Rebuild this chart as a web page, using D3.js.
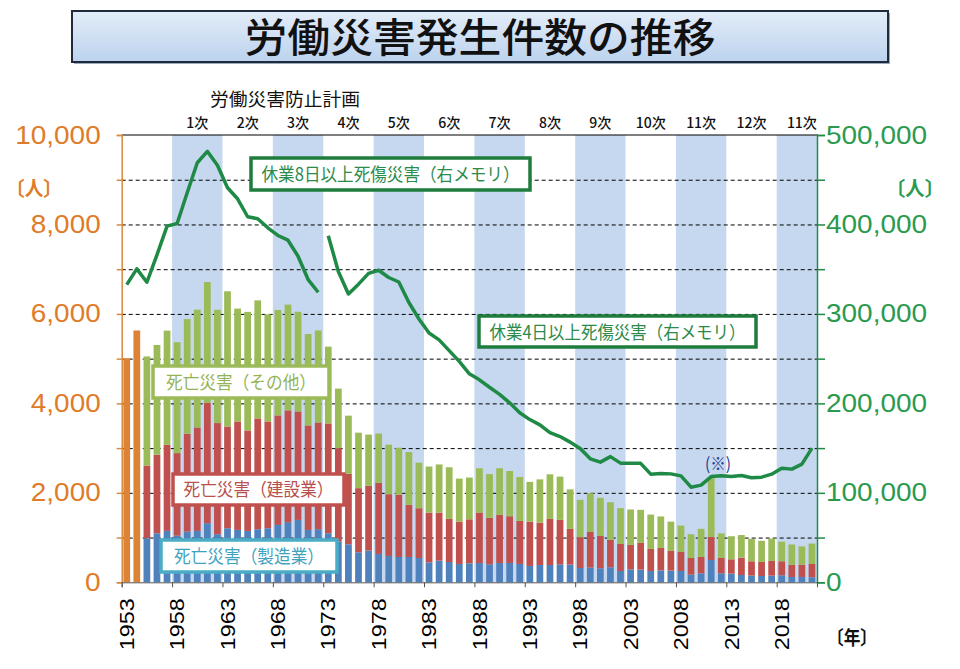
<!DOCTYPE html>
<html><head><meta charset="utf-8">
<script src="https://cdn.jsdelivr.net/npm/d3@7"></script>
<style>body{margin:0;background:#fff}svg{display:block}</style>
</head><body>
<svg id="c" width="960" height="669"></svg>
<script>
// ---------------- DATA ----------------
const years = d3.range(1953, 2022);
const earlyYears = [1953, 1954];
const earlyTotal = [5010, 5630];
const stackYears = d3.range(1955, 2022);
const manufacturing = [985,1097,1149,1044,1134,1149,1321,1075,1209,1171,
  1149,1187,1209,1283,1343,1395,1171,1187,1097,909,
  850,671,708,634,589,566,566,544,447,484,
  454,410,425,432,402,432,432,410,365,387,
  387,402,395,320,330,313,336,253,291,284,
  253,268,261,253,171,201,499,201,193,163,
  148,141,148,156,119,119,112];
const construction = [1626,1753,1925,1844,2186,2313,2687,2485,2275,2425,
  2246,2477,2387,2448,2500,2425,2336,2387,2455,2091,
  1575,1434,1448,1589,1381,1389,1165,1112,1112,1075,
  963,947,984,1127,1038,1075,1045,962,992,948,
  1030,993,798,690,795,724,611,604,544,596,
  493,500,440,425,373,365,515,343,322,388,
  322,314,329,314,275,275,298];
const others = [2439,2456,2553,2480,2565,2633,2704,2533,3022,2523,
  2651,2639,2394,2357,2365,2228,2045,2057,1717,1330,
  1300,1240,1146,1103,1107,1054,1181,1018,1029,1076,
  1155,961,933,990,979,1043,1012,982,888,966,
  997,968,885,834,867,852,843,801,793,740,
  768,704,656,590,531,629,1324,549,515,506,
  502,473,501,439,451,408,457];
const line8Years = d3.range(1953, 1973);
const line8 = [332800,350400,335400,366000,398100,401100,435500,469000,481700,466100,
  441000,428700,408600,406400,396300,387700,382400,364500,338400,324200];
const line4Years = d3.range(1973, 2022);
const line4 = [387300,347400,322300,333300,345300,348800,340700,335700,312800,294300,
  278600,271000,259000,246900,233000,226300,218000,210100,200600,189600,
  181900,176000,167300,162900,156700,149500,138000,134300,140500,133200,
  133000,133000,120900,121600,121200,119000,106300,108600,118200,119000,
  118200,119300,116800,117500,120900,127600,126500,132100,150000];
const planLabels = ["1次","2次","3次","4次","5次","6次","7次","8次","9次","10次","11次","12次","11次"];
const planStarts = [1958,1963,1968,1973,1978,1983,1988,1993,1998,2003,2008,2013,2018];
const shadedPlans = [1958,1968,1978,1988,1998,2008,2018];
const xTickYears = [1953,1958,1963,1968,1973,1978,1983,1988,1993,1998,2003,2008,2013,2018];
const leftLabelTicks = [0,2000,4000,6000,8000,10000];
const leftMinorTicks = [0,1000,2000,3000,4000,5000,6000,7000,8000,9000,10000];
const rightLabelTicks = [0,100000,200000,300000,400000,500000];
const rightMinorTicks = [0,50000,100000,150000,200000,250000,300000,350000,400000,450000,500000];
const gridTicks = [1000,2000,3000,4000,5000,6000,7000,8000,9000];

// ---------------- LAYOUT ----------------
const L = 121.7, R = 817, T = 135, B = 582.3;
const C = {blue:"#4F81BD", red:"#C0504D", green:"#9BBB59", orange:"#DD8336",
  band:"#C6D8EF", line:"#1E8A46", axisOrange:"#D98A3E", txtOrange:"#E07B28", txtGreen:"#2A9A4E"};
const JP = "'Noto Sans CJK JP','Noto Sans',sans-serif";
const NUM = "'Liberation Sans',Arial,sans-serif";

const svg = d3.select("#c");
const x = d3.scaleBand().domain(years).range([L, R]).paddingInner(0.33).paddingOuter(0.165);
const xLin = d3.scaleLinear().domain([1953, 2022]).range([L, R]);
const y = d3.scaleLinear().domain([0, 10000]).range([B, T]);
const yR = d3.scaleLinear().domain([0, 500000]).range([B, T]);

// Title
const defs = svg.append("defs");
const g1 = defs.append("linearGradient").attr("id","tg").attr("x1",0).attr("y1",0).attr("x2",0).attr("y2",1);
g1.append("stop").attr("offset","0%").attr("stop-color","#e3edf9");
g1.append("stop").attr("offset","100%").attr("stop-color","#bcd2ee");
svg.append("rect").attr("x",74).attr("y",13).attr("width",816).attr("height",51).attr("fill","#9aa9bb");
svg.append("rect").attr("x",72).attr("y",11).attr("width",816).attr("height",51)
  .attr("fill","url(#tg)").attr("stroke","#1f2a3a").attr("stroke-width",2);
svg.append("text").attr("x",480).attr("y",52).attr("text-anchor","middle")
  .attr("font-family",JP).attr("font-size",40).attr("font-weight",500).attr("fill","#111")
  .attr("textLength",471).attr("lengthAdjust","spacingAndGlyphs").text("労働災害発生件数の推移");

// Bands
svg.append("g").selectAll("rect").data(shadedPlans).join("rect")
  .attr("x", d => xLin(d)).attr("y", T)
  .attr("width", d => xLin(Math.min(d + 5, 2022)) - xLin(d)).attr("height", B - T)
  .attr("fill", C.band);

// Gridlines
const grid = svg.append("g").attr("transform",`translate(${L},0)`)
  .call(d3.axisLeft(y).tickValues(gridTicks).tickSize(-(R - L)).tickFormat(""));
grid.select(".domain").remove();
grid.selectAll("line").attr("stroke","#000").attr("stroke-width",1).attr("stroke-dasharray","4,3");

// Early orange bars
svg.append("g").selectAll("rect").data(earlyYears).join("rect")
  .attr("x", d => x(d)).attr("width", x.bandwidth())
  .attr("y", (d,i) => y(earlyTotal[i])).attr("height", (d,i) => B - y(earlyTotal[i]))
  .attr("fill", C.orange);

// Stacked bars
const rows = stackYears.map((yr,i) => ({year:yr, m:manufacturing[i], c:construction[i], o:others[i]}));
const series = d3.stack().keys(["m","c","o"])(rows);
const colorOf = {m:C.blue, c:C.red, o:C.green};
svg.append("g").selectAll("g").data(series).join("g").attr("fill", s => colorOf[s.key])
  .selectAll("rect").data(s => s).join("rect")
  .attr("x", d => x(d.data.year)).attr("width", x.bandwidth())
  .attr("y", d => y(d[1])).attr("height", d => y(d[0]) - y(d[1]));

// top border
svg.append("line").attr("x1",L).attr("x2",R+1).attr("y1",T).attr("y2",T).attr("stroke","#000").attr("stroke-width",1.2);

// Left axis
const la = svg.append("g").attr("transform",`translate(${L},0)`)
  .call(d3.axisLeft(y).tickValues(leftMinorTicks).tickSize(5).tickFormat(""));
la.selectAll("line,path").attr("stroke",C.axisOrange).attr("stroke-width",1.5);
const ll = svg.append("g").attr("transform",`translate(${L},0)`)
  .call(d3.axisLeft(y).tickValues(leftLabelTicks).tickSize(0).tickPadding(21).tickFormat(d3.format(",")));
ll.select(".domain").remove();
ll.selectAll("text").attr("font-family",NUM).attr("font-size",25).attr("fill",C.txtOrange)
  .attr("textLength", d => { const s=d3.format(",")(d); return (s.replace(/,/g,"").length*15.6 + (s.split(",").length-1)*7.5); })
  .attr("lengthAdjust","spacingAndGlyphs");

// Right axis
const ra = svg.append("g").attr("transform",`translate(${R},0)`)
  .call(d3.axisRight(yR).tickValues(rightMinorTicks).tickSize(8).tickFormat(""));
ra.selectAll("line,path").attr("stroke",C.line).attr("stroke-width",1.5);
const rl = svg.append("g").attr("transform",`translate(${R},0)`)
  .call(d3.axisRight(yR).tickValues(rightLabelTicks).tickSize(0).tickPadding(9).tickFormat(d3.format(",")));
rl.select(".domain").remove();
rl.selectAll("text").attr("font-family",NUM).attr("font-size",25).attr("fill",C.txtGreen)
  .attr("textLength", d => { const s=d3.format(",")(d); return (s.replace(/,/g,"").length*15.6 + (s.split(",").length-1)*7.5); })
  .attr("lengthAdjust","spacingAndGlyphs");

// Bottom axis (boundary ticks)
const ba = svg.append("g").attr("transform",`translate(0,${B})`)
  .call(d3.axisBottom(xLin).tickValues(xTickYears).tickSize(5).tickFormat(""));
ba.selectAll("line,path").attr("stroke","#555").attr("stroke-width",1);
// year labels centered on category
const bl = svg.append("g").attr("transform",`translate(0,${B})`)
  .call(d3.axisBottom(x).tickValues(xTickYears).tickSize(0));
bl.select(".domain").remove();
bl.selectAll("text").attr("font-family",NUM).attr("font-size",20).attr("fill","#000")
  .attr("transform","rotate(-90)").attr("x",-16).attr("y",0).attr("dy","0.36em")
  .attr("text-anchor","end").attr("textLength",52).attr("lengthAdjust","spacingAndGlyphs");

// Lines
const lineGen = d3.line().x(d => x(d[0]) + x.bandwidth()/2).y(d => yR(d[1]));
svg.append("path").datum(line8Years.map((yr,i)=>[yr,line8[i]])).attr("d",lineGen)
  .attr("fill","none").attr("stroke",C.line).attr("stroke-width",3.5).attr("stroke-linejoin","round");
svg.append("path").datum(line4Years.map((yr,i)=>[yr,line4[i]])).attr("d",lineGen)
  .attr("fill","none").attr("stroke",C.line).attr("stroke-width",3.5).attr("stroke-linejoin","round");

// Plan labels
svg.append("text").attr("x",285).attr("y",106).attr("text-anchor","middle").attr("font-family",JP)
  .attr("font-size",18).attr("fill","#111").attr("textLength",150).attr("lengthAdjust","spacingAndGlyphs").text("労働災害防止計画");
svg.append("g").selectAll("text").data(planLabels).join("text")
  .attr("x",(d,i)=>xLin(planStarts[i]+2.5)).attr("y",128).attr("text-anchor","middle")
  .attr("font-family",JP).attr("font-size",14).attr("font-weight",500).attr("fill","#111").text(d=>d);

// Unit labels
svg.append("text").attr("x",6).attr("y",196).attr("font-family",JP).attr("font-size",20).attr("font-weight",700)
  .attr("fill",C.txtOrange).attr("textLength",56).attr("lengthAdjust","spacingAndGlyphs").text("〔人〕");
svg.append("text").attr("x",886).attr("y",196).attr("font-family",JP).attr("font-size",20).attr("font-weight",700)
  .attr("fill",C.txtGreen).attr("textLength",58).attr("lengthAdjust","spacingAndGlyphs").text("〔人〕");
svg.append("text").attr("x",827).attr("y",645).attr("font-family",JP).attr("font-size",19).attr("font-weight",700)
  .attr("fill","#111").attr("textLength",50).attr("lengthAdjust","spacingAndGlyphs").text("〔年〕");

// Legend boxes
function box(x0,y0,w,h,stroke,txt,color,tl,base){
  svg.append("rect").attr("x",x0).attr("y",y0).attr("width",w).attr("height",h)
    .attr("fill","#fff").attr("stroke",stroke).attr("stroke-width",3.5);
  svg.append("text").attr("x",x0+w/2).attr("y",base).attr("text-anchor","middle").attr("font-family",JP)
    .attr("font-size",18).attr("fill",color).attr("textLength",tl).attr("lengthAdjust","spacingAndGlyphs").text(txt);
}
box(251,158,279,32,"#1E7D3C","休業8日以上死傷災害（右メモリ）","#2C8A4A",258,181);
box(479,316,277,31,"#1E7D3C","休業4日以上死傷災害（右メモリ）","#2C8A4A",256,339);
box(153,366,176,32,C.green,"死亡災害（その他）","#94B356",150,389);
box(173,474,171,31,C.red,"死亡災害（建設業）","#B8504D",150,496);
box(161,540,176,32,"#4BACC6","死亡災害（製造業）","#3FA3BE",150,563);

// (※)
svg.append("text").attr("x",718).attr("y",470).attr("text-anchor","middle").attr("font-family",JP)
  .attr("font-size",17).attr("fill","#1F3A93").attr("textLength",26).attr("lengthAdjust","spacingAndGlyphs").text("(※)");
</script>
</body></html>
